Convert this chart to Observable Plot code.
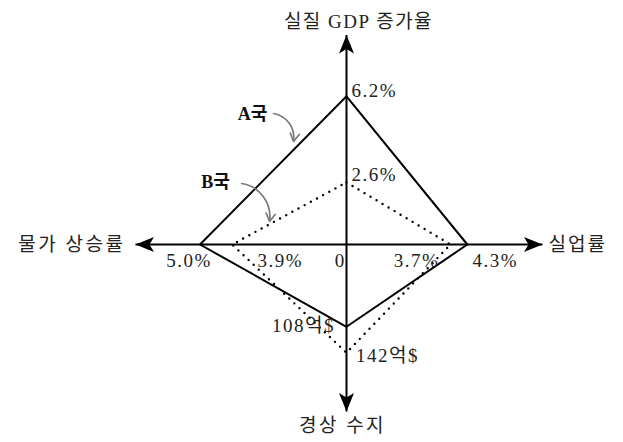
<!DOCTYPE html>
<html><head><meta charset="utf-8">
<script src="https://cdn.jsdelivr.net/npm/d3@7"></script>
<script src="https://cdn.jsdelivr.net/npm/@observablehq/plot@0.6"></script>
<style>
body{margin:0;background:#fff;}
#chart svg{display:block;}
</style>
</head><body><div id="chart"></div>
<script>
// ---- data ----
const countries = ["A국", "B국"];
const gdpGrowth = [6.2, 2.6];        // 실질 GDP 증가율 (%)
const unemployment = [4.3, 3.7];     // 실업률 (%)
const currentAccount = [108, 142];   // 경상 수지 (억$)
const inflation = [5.0, 3.9];        // 물가 상승률 (%)
const axisTitles = ["실질 GDP 증가율", "실업률", "경상 수지", "물가 상승률"];
const originLabel = "0";

// ---- layout ----
const W = 623, H = 442, CX = 346, CY = 244;
const FONT = "'Liberation Serif', 'Noto Sans CJK KR', serif";

// each axis has its own linear scale (value -> distance from the origin)
const axes = [
  {title: axisTitles[0], values: gdpGrowth,      fmt: v => v.toFixed(1) + "%", dir: [0, 1],  scale: d3.scaleLinear([0, 10], [0, 239]), len: 209.5, rotate: 0},
  {title: axisTitles[1], values: unemployment,   fmt: v => v.toFixed(1) + "%", dir: [1, 0],  scale: d3.scaleLinear([0, 10], [0, 281]), len: 196,   rotate: 90},
  {title: axisTitles[2], values: currentAccount, fmt: v => v + "억$",           dir: [0, -1], scale: d3.scaleLinear([0, 100], [0, 76.2]), len: 167, rotate: 180},
  {title: axisTitles[3], values: inflation,      fmt: v => v.toFixed(1) + "%", dir: [-1, 0], scale: d3.scaleLinear([0, 10], [0, 293]), len: 211,   rotate: 270}
];
axes.forEach(a => { a.tx = a.dir[0] * a.len; a.ty = a.dir[1] * a.len; });

// polygon vertices
const vertices = [];
countries.forEach((c, i) => axes.forEach((a, k) => {
  const r = a.scale(a.values[i]);
  vertices.push({country: c, axis: k, value: a.values[i], label: a.fmt(a.values[i]), x: a.dir[0] * r, y: a.dir[1] * r});
}));

// label offsets in px [dx, dy(screen)] and anchors, per country per axis
const labelOffset = {
  "A국": [[5, -5, "start"], [28, 16, "middle"], [-43, -1, "middle"], [-11, 16, "middle"]],
  "B국": [[5, -7, "start"], [-34, 16, "middle"], [41, 3, "middle"], [48, 16, "middle"]]
};
const titleOffset = [[12, 13.5, "middle", 1.5], [6, 0, "start", 2], [-4, -14, "middle", 2.5], [-10, 0, "end", 2.5]];

// filled concave arrowhead, tip at the origin, pointing up
const arrowHead = {draw(ctx) {
  ctx.moveTo(0, 0); ctx.lineTo(7.5, 18.5); ctx.lineTo(0, 14); ctx.lineTo(-7.5, 18.5); ctx.closePath();
}};

const valueLabels = vertices.map(v => {
  const o = labelOffset[v.country][v.axis];
  return {text: v.label, x: v.x + o[0], y: v.y - o[1], anchor: o[2]};
});

// annotations (country call-outs)
const callouts = [
  {text: countries[0], x: -94, y: 130, x1: -73, y1: 131, x2: -53, y2: 103},
  {text: countries[1], x: -131, y: 62, x1: -105, y1: 61, x2: -77, y2: 23}
];

const marks = [
  // axes
  Plot.link(axes, {x1: 0, y1: 0, x2: "tx", y2: "ty", stroke: "black", strokeWidth: 2}),
  // country polygons
  Plot.line(vertices.filter(v => v.country === countries[0]), {x: "x", y: "y", curve: "linear-closed", stroke: "black", strokeWidth: 2}),
  Plot.line(vertices.filter(v => v.country === countries[1]), {x: "x", y: "y", curve: "linear-closed", stroke: "black", strokeWidth: 2.4, strokeDasharray: "0 7", strokeLinecap: "round"}),
  // arrowheads
  Plot.dot(axes, {x: "tx", y: "ty", symbol: arrowHead, rotate: "rotate", fill: "black", stroke: "none"}),
  // call-out arrows
  Plot.arrow(callouts, {x1: "x1", y1: "y1", x2: "x2", y2: "y2", bend: 45, stroke: "#7a7a7a", strokeWidth: 1.7, headLength: 8}),
  Plot.text(callouts, {x: "x", y: "y", text: "text", fontFamily: FONT, fontSize: 18, fontWeight: "bold", fill: "#111", ariaDescription: "ls-0"}),
  // origin
  Plot.text([originLabel], {x: -7, y: -16, text: d => d, fontFamily: FONT, fontSize: 19, fill: "#222"})
];
// value labels
for (const anchor of ["start", "middle", "end"]) {
  const d = valueLabels.filter(l => l.anchor === anchor);
  if (d.length) marks.push(Plot.text(d, {x: "x", y: "y", text: "text", textAnchor: anchor, fontFamily: FONT, fontSize: 19, fill: "#222", ariaDescription: "ls-1.5"}));
}
// axis titles
axes.forEach((a, k) => {
  const o = titleOffset[k];
  marks.push(Plot.text([a], {x: d => d.tx + o[0], y: d => d.ty + o[1], text: "title", textAnchor: o[2], fontFamily: FONT, fontSize: 19, fill: "#222", ariaDescription: "ls-" + o[3]}));
});

const chart = Plot.plot({
  width: W, height: H,
  marginTop: 0, marginRight: 0, marginBottom: 0, marginLeft: 0,
  x: {domain: [-CX, W - CX], axis: null},
  y: {domain: [-(H - CY), CY], axis: null},
  style: {background: "white", overflow: "visible"},
  marks
});
// per-mark letter spacing
d3.select(chart).selectAll("g[aria-description^='ls-']").each(function () {
  const v = this.getAttribute("aria-description").slice(3);
  this.style.letterSpacing = v + "px";
});
document.getElementById("chart").append(chart);
</script>
</body></html>
